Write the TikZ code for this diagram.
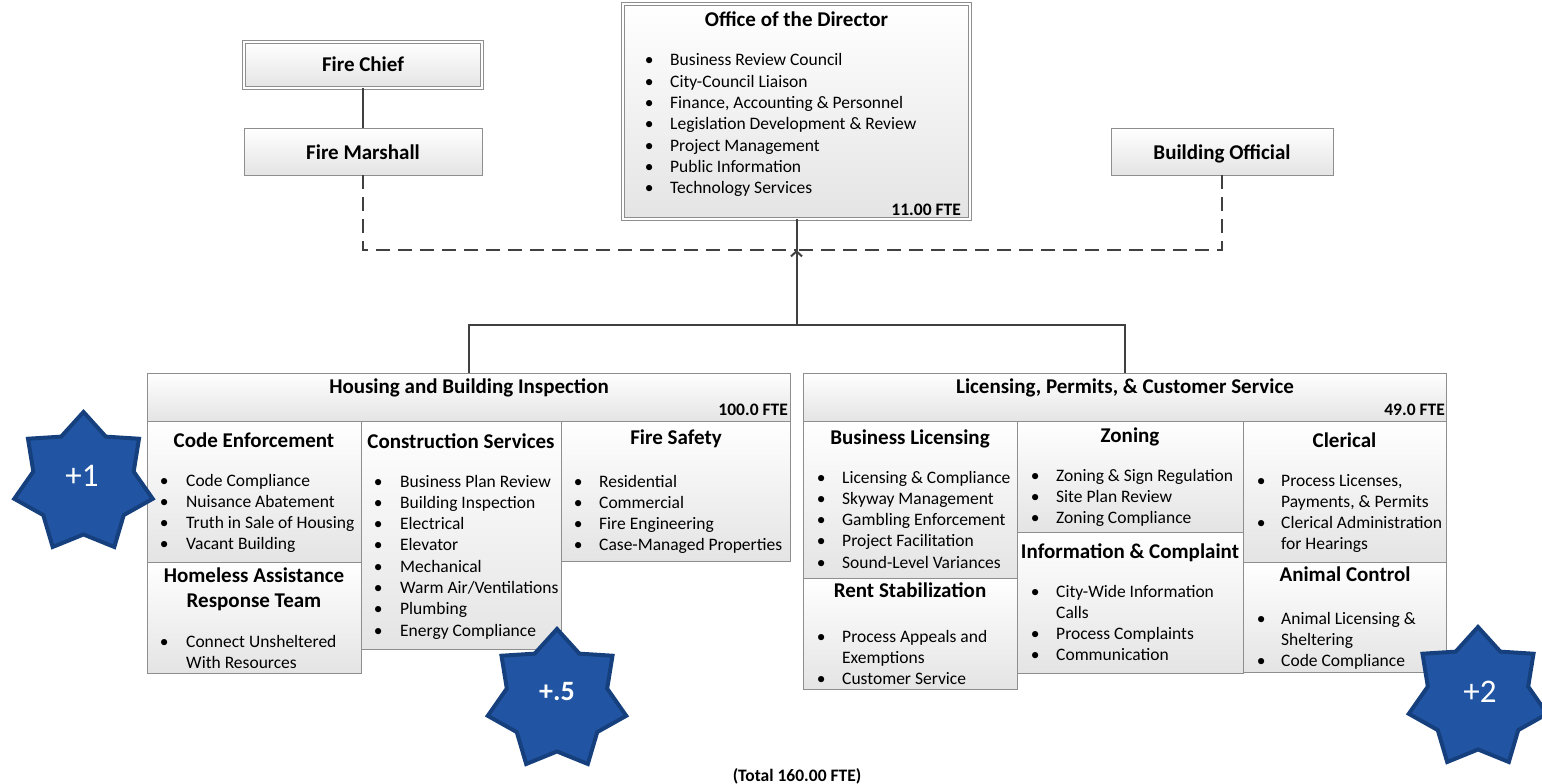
\documentclass[tikz,border=0pt]{standalone}
\usepackage{fontspec}
\setmainfont{Carlito}
\usetikzlibrary{shapes.geometric,arrows.meta,calc}
\definecolor{boxline}{HTML}{8E8E8E}
\definecolor{connline}{HTML}{404040}
\definecolor{starfill}{HTML}{2155A3}
\definecolor{starline}{HTML}{16407D}
\definecolor{boxbot}{HTML}{E4E4E4}
\newcommand\blist[2]{\begin{tabular}[t]{@{}p{#1}@{}l@{}}#2\end{tabular}}
\begin{document}
\begin{tikzpicture}[x=1pt,y=-1pt,
 box/.style={draw=boxline, line width=0.9pt, top color=white, bottom color=boxbot, inner sep=0pt, outer sep=0pt},
 dbox/.style={box, double=white, double distance=2pt, line width=0.8pt},
 ttl/.style={font=\fontsize{21}{25.6}\selectfont\bfseries, inner sep=0pt, anchor=base},
 body/.style={font=\fontsize{17.5}{21.33}\selectfont, inner sep=0pt, anchor=base west},
 fte/.style={font=\fontsize{17.5}{21.33}\selectfont\bfseries, inner sep=0pt, anchor=base east},
 conn/.style={draw=connline, line width=2pt},
 dconn/.style={draw=connline, line width=2pt, dash pattern=on 14pt off 8pt},
 starsty/.style={star, star points=7, star point ratio=1.38, minimum size=142pt, inner sep=0pt, fill=starfill, draw=starline, line width=4pt},
 startxt/.style={text=white, inner sep=0pt, anchor=base, font=\fontsize{33}{40}\selectfont},
]
\useasboundingbox (0,0) rectangle (1542,784);

% top boxes
\node[dbox, minimum width=238pt, minimum height=46pt] (fc) at (363,65) {};
\node[ttl] (fct) at (363,72) {Fire Chief};
\node[box, minimum width=238pt, minimum height=47pt] (fm) at (363,151.5) {};
\node[ttl] (fmt) at (363,159) {Fire Marshall};
\node[box, minimum width=222pt, minimum height=47pt] (bo) at (1222,151.5) {};
\node[ttl] (bot) at (1222,159) {Building Official};
\node[dbox, minimum width=347pt, minimum height=215pt] (dir) at (796.5,111.5) {};
\node[ttl] (dirt) at (796.5,27) {Office of the Director};
\node[body] (dirl) at (644.6,66) {\blist{25.4pt}{%
\textbullet & Business Review Council\\
\textbullet & City-Council Liaison\\
\textbullet & Finance, Accounting \& Personnel\\
\textbullet & Legislation Development \& Review\\
\textbullet & Project Management\\
\textbullet & Public Information\\
\textbullet & Technology Services}};
\node[fte] (dirf) at (961,215) {11.00 FTE};

% connectors top
\draw[conn] (fc.south) -- (fm.north);
\coordinate (j) at (796.5,250);
\coordinate (hub) at (796.5,325);
\draw[dconn] (fm.south) |- (j);
\draw[dconn] (bo.south) |- (j);

% Housing
\node[box, minimum width=643pt, minimum height=48pt] (hb) at (468.5,397) {};
\node[ttl] (hbt) at (469,393) {Housing and Building Inspection};
\node[fte] (hbf) at (788,415) {100.0 FTE};
\node[box, minimum width=214pt, minimum height=141pt] (ce) at (254,491.5) {};
\node[ttl] (cet) at (254,447) {Code Enforcement};
\node[body] (cel) at (159.6,486) {\blist{26.4pt}{%
\textbullet & Code Compliance\\
\textbullet & Nuisance Abatement\\
\textbullet & Truth in Sale of Housing\\
\textbullet & Vacant Building}};
\node[box, minimum width=214pt, minimum height=111pt] (ha) at (254,617.5) {};
\node[ttl] (hat1) at (254,582) {Homeless Assistance};
\node[ttl] (hat2) at (254,607.6) {Response Team};
\node[body] (hal) at (159.6,647) {\blist{26.4pt}{%
\textbullet & Connect Unsheltered\\
 & With Resources}};
\node[box, minimum width=200pt, minimum height=228pt] (cs) at (461,535) {};
\node[ttl] (cst) at (461,448) {Construction Services};
\node[body] (csl) at (373.6,487) {\blist{26.4pt}{%
\textbullet & Business Plan Review\\
\textbullet & Building Inspection\\
\textbullet & Electrical\\
\textbullet & Elevator\\
\textbullet & Mechanical\\
\textbullet & Warm Air/Ventilations\\
\textbullet & Plumbing\\
\textbullet & Energy Compliance}};
\node[box, minimum width=229pt, minimum height=140pt] (fs) at (675.5,491) {};
\node[ttl] (fst) at (676,444) {Fire Safety};
\node[body] (fsl) at (573.6,487) {\blist{25.4pt}{%
\textbullet & Residential\\
\textbullet & Commercial\\
\textbullet & Fire Engineering\\
\textbullet & Case-Managed Properties}};

% Licensing
\node[box, minimum width=643pt, minimum height=48pt] (lp) at (1124.5,397) {};
\node[ttl] (lpt) at (1125,393) {Licensing, Permits, \& Customer Service};
\node[fte] (lpf) at (1445,415) {49.0 FTE};
\node[box, minimum width=214pt, minimum height=157pt] (bl) at (910,499.5) {};
\node[ttl] (blt) at (910,444) {Business Licensing};
\node[body] (bll) at (816.6,483) {\blist{25.4pt}{%
\textbullet & Licensing \& Compliance\\
\textbullet & Skyway Management\\
\textbullet & Gambling Enforcement\\
\textbullet & Project Facilitation\\
\textbullet & Sound-Level Variances}};
\node[box, minimum width=214pt, minimum height=111pt] (rs) at (910,633.5) {};
\node[ttl] (rst) at (910,597) {Rent Stabilization};
\node[body] (rsl) at (816.6,642) {\blist{25.4pt}{%
\textbullet & Process Appeals and\\
 & Exemptions\\
\textbullet & Customer Service}};
\node[box, minimum width=226pt, minimum height=111pt] (zo) at (1130,476.5) {};
\node[ttl] (zot) at (1130,442) {Zoning};
\node[body] (zol) at (1030.6,481) {\blist{25.4pt}{%
\textbullet & Zoning \& Sign Regulation\\
\textbullet & Site Plan Review\\
\textbullet & Zoning Compliance}};
\node[box, minimum width=226pt, minimum height=141pt] (ic) at (1130,602.5) {};
\node[ttl] (ict) at (1130,558) {Information \& Complaint};
\node[body] (icl) at (1030.6,597) {\blist{25.4pt}{%
\textbullet & City-Wide Information\\
 & Calls\\
\textbullet & Process Complaints\\
\textbullet & Communication}};
\node[box, minimum width=203pt, minimum height=141pt] (cl) at (1344.5,491.5) {};
\node[ttl] (clt) at (1344.5,447) {Clerical};
\node[body] (cll) at (1256.6,486) {\blist{24.4pt}{%
\textbullet & Process Licenses,\\
 & Payments, \& Permits\\
\textbullet & Clerical Administration\\
 & for Hearings}};
\node[box, minimum width=203pt, minimum height=110pt] (ac) at (1344.5,617) {};
\node[ttl] (act) at (1345,581) {Animal Control};
\node[body] (acl) at (1256.6,624) {\blist{24.4pt}{%
\textbullet & Animal Licensing \&\\
 & Sheltering\\
\textbullet & Code Compliance}};

% main connectors
\draw[conn] (dir.south) -- (hub);
\draw[conn] (hb.north) -- (hb.north |- hub) -- (lp.north |- hub) -- (lp.north);
\draw[connline, line width=2pt, -{Straight Barb[length=5pt,width=11pt]}] ($(j)+(0,8)$) -- (j);

% stars
\node[starsty] (s1) at (83.5,483) {};
\node[startxt] (s1t) at (82,486) {+1};
\node[starsty] (s2) at (557,700) {};
\node[startxt, font=\fontsize{28}{34}\selectfont\bfseries] (s2t) at (557,700) {+.5};
\node[starsty] (s3) at (1478,698) {};
\node[startxt] (s3t) at (1480,702) {+2};

\node[font=\fontsize{17.5}{21.33}\selectfont\bfseries, inner sep=0pt, anchor=base] (tot) at (797,781) {(Total 160.00 FTE)};
\end{tikzpicture}
\end{document}
